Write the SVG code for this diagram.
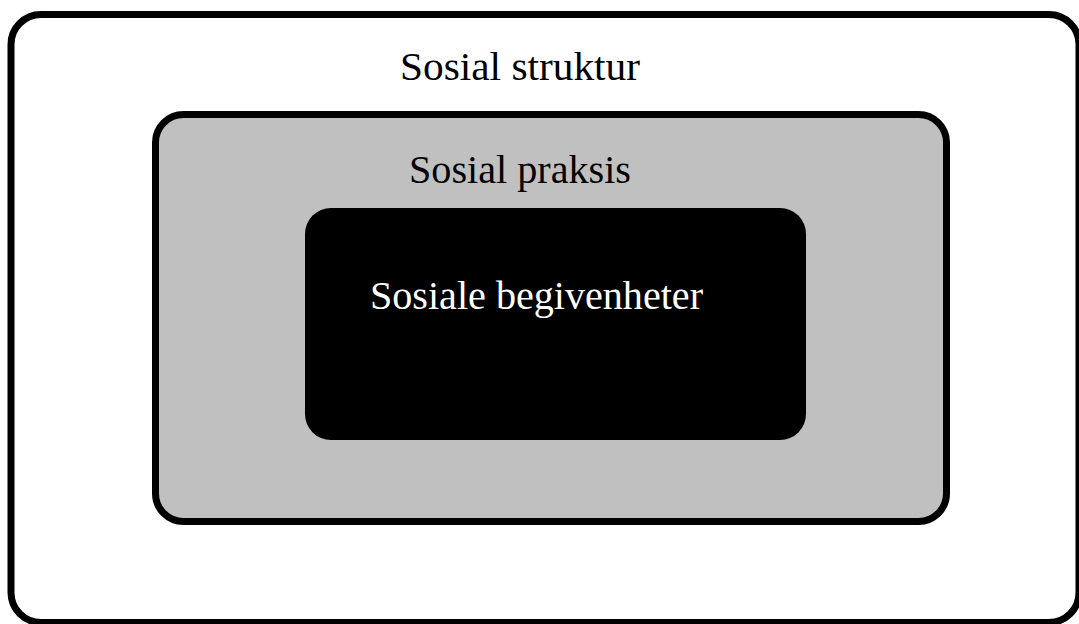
<svg xmlns="http://www.w3.org/2000/svg" width="1079" height="624" viewBox="0 0 1079 624">
<style>
.t{font-family:"Liberation Serif","Times New Roman",serif;font-size:40px}
</style>
<rect width="1079" height="624" fill="#ffffff"/>
<g id="sosial-struktur">
<rect x="11" y="14.5" width="1068" height="608" rx="30" fill="#ffffff" stroke="#000000" stroke-width="7"/>
<text class="t" x="400" y="80" textLength="240" lengthAdjust="spacingAndGlyphs" fill="#000000">Sosial struktur</text>
</g>
<g id="sosial-praksis">
<rect x="155.5" y="114.5" width="791" height="407" rx="28" fill="#c0c0c0" stroke="#000000" stroke-width="7"/>
<text class="t" x="409" y="183" textLength="222" lengthAdjust="spacingAndGlyphs" fill="#000000">Sosial praksis</text>
</g>
<g id="sosiale-begivenheter">
<rect x="305" y="208" width="501" height="232" rx="26" fill="#000000"/>
<text class="t" x="370" y="309" textLength="333" lengthAdjust="spacingAndGlyphs" fill="#ffffff">Sosiale begivenheter</text>
</g>
<g id="connectors"></g>
</svg>
